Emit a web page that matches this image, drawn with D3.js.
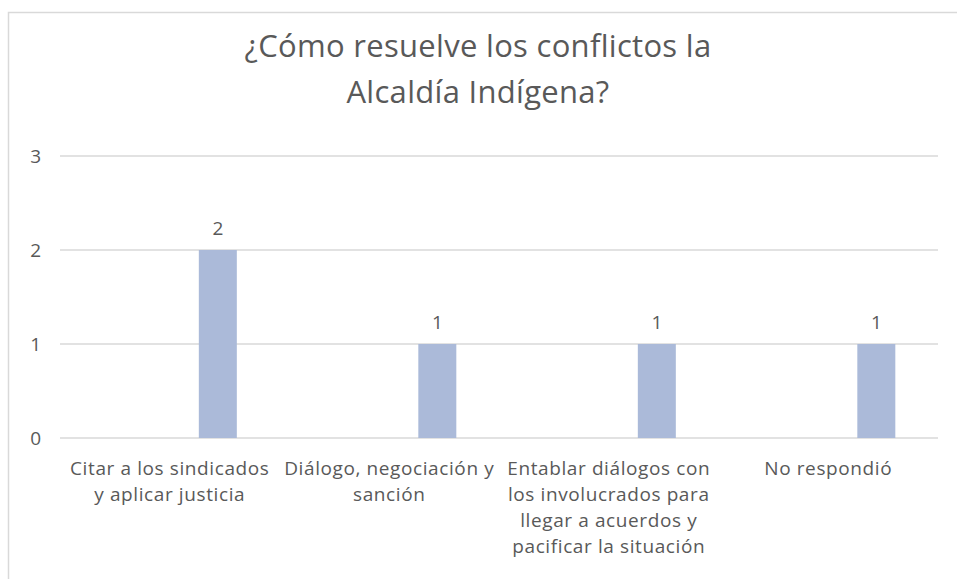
<!DOCTYPE html>
<html>
<head>
<meta charset="utf-8">
<script src="https://cdn.jsdelivr.net/npm/d3@7"></script>
<style>
  body { margin: 0; background: #fff; }
  svg { display: block; }
  text { font-family: 'Open Sans', 'Noto Sans', sans-serif; fill: #595959; }
</style>
</head>
<body>
<div id="chart"></div>
<script>
const categories = [
  ['Citar a los sindicados', 'y aplicar justicia'],
  ['Diálogo, negociación y', 'sanción'],
  ['Entablar diálogos con', 'los involucrados para', 'llegar a acuerdos y', 'pacificar la situación'],
  ['No respondió']
]
const values = [2, 1, 1, 1]
const yTicks = [0, 1, 2, 3]
const titleLines = ['¿Cómo resuelve los conflictos la', 'Alcaldía Indígena?']

const width = 957
const height = 579
const margin = { top: 156, right: 19, bottom: 141, left: 60 }

const svg = d3.select('#chart').append('svg')
  .attr('width', width)
  .attr('height', height)

// chart frame (cut off on the right and bottom like the reference)
svg.append('rect')
  .attr('x', 8.5).attr('y', 12.5)
  .attr('width', 1000).attr('height', 1000)
  .attr('fill', 'none')
  .attr('stroke', '#d9d9d9')
  .attr('stroke-width', 1.5)

const x = d3.scaleBand()
  .domain(d3.range(categories.length))
  .range([margin.left, width - margin.right])

const y = d3.scaleLinear()
  .domain([0, 3])
  .range([height - margin.bottom, margin.top])

// gridlines
svg.append('g')
  .selectAll('line')
  .data(yTicks)
  .join('line')
  .attr('x1', margin.left)
  .attr('x2', width - margin.right)
  .attr('y1', d => y(d))
  .attr('y2', d => y(d))
  .attr('stroke', '#d9d9d9')
  .attr('stroke-width', 1.3)

// y labels
svg.append('g')
  .selectAll('text')
  .data(yTicks)
  .join('text')
  .attr('x', 41)
  .attr('y', d => y(d) + 7)
  .attr('text-anchor', 'end')
  .attr('font-size', 19)
  .text(d => d)

// bars sit right of the category centre
const barW = 38
const barCx = i => x(i) + x.bandwidth() / 2 + x.bandwidth() * 0.219

svg.append('g')
  .selectAll('rect')
  .data(values)
  .join('rect')
  .attr('x', (d, i) => barCx(i) - barW / 2)
  .attr('y', d => y(d))
  .attr('width', barW)
  .attr('height', d => y(0) - y(d))
  .attr('fill', '#abbad9')

// data labels
svg.append('g')
  .selectAll('text')
  .data(values)
  .join('text')
  .attr('x', (d, i) => barCx(i))
  .attr('y', d => y(d) - 15)
  .attr('text-anchor', 'middle')
  .attr('font-size', 19)
  .text(d => d)

// category labels
const catG = svg.append('g')
  .selectAll('text')
  .data(categories)
  .join('text')
  .attr('text-anchor', 'middle')
  .attr('font-size', 19)
  .attr('letter-spacing', 0.6)
catG.selectAll('tspan')
  .data((d, i) => d.map(t => ({ t, i })))
  .join('tspan')
  .attr('x', d => x(d.i) + x.bandwidth() / 2)
  .attr('y', (d, j) => y(0) + 37 + j * 26)
  .text(d => d.t)

// title
svg.append('g')
  .selectAll('text')
  .data(titleLines)
  .join('text')
  .attr('x', 478)
  .attr('y', (d, i) => 57 + i * 46)
  .attr('text-anchor', 'middle')
  .attr('font-size', 31)
  .attr('letter-spacing', 0.3)
  .text(d => d)
</script>
</body>
</html>
